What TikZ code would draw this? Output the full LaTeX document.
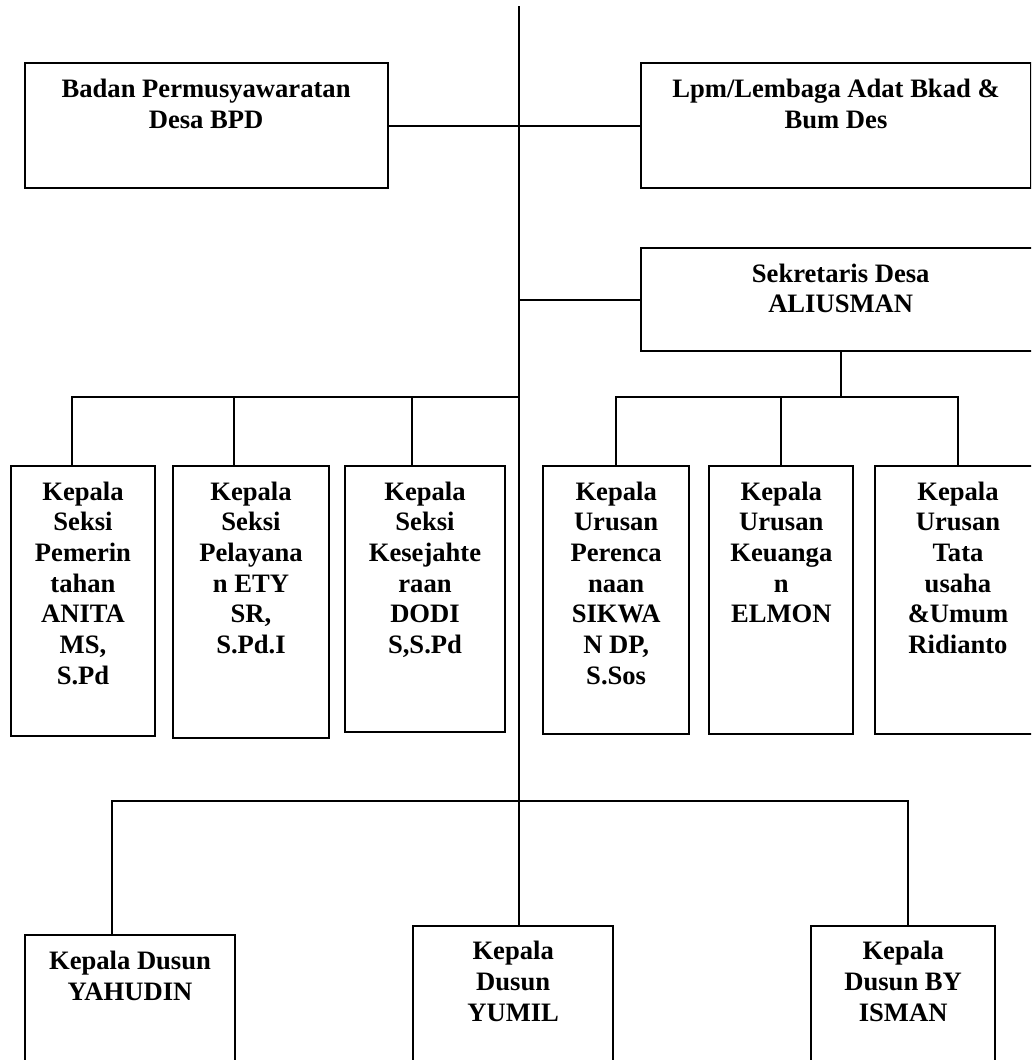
\documentclass[tikz,border=0pt]{standalone}
\usepackage{fontspec}
\setmainfont{Liberation Serif}
\usetikzlibrary{calc}

\newcommand{\lines}[1]{\begin{tabular}[t]{@{}c@{}}#1\end{tabular}}

\begin{document}
\begin{tikzpicture}[x=1pt, y=-1pt, line width=2pt,
        unit/.style={draw, rectangle, inner sep=0pt, anchor=north west},
        txt/.style={anchor=base, inner sep=0pt, font=\fontsize{26.6}{30.7}\selectfont\bfseries}]
        \useasboundingbox (0,0) rectangle (1031,1060);
        \clip (0,0) rectangle (1031,1060);

        \node[unit, minimum width=363.2pt, minimum height=124.4pt] (bpd) at (23.5,62.3) {};
        \node[unit, minimum width=390.6pt, minimum height=124.4pt] (lpm) at (639.7,62.3) {};
        \node[unit, minimum width=400pt, minimum height=103.3pt] (sekdes) at (639.7,247) {};

        \node[unit, minimum width=144.6pt, minimum height=270pt] (pem) at (9.7,465) {};
        \node[unit, minimum width=156.6pt, minimum height=271.7pt] (pel) at (171.7,465) {};
        \node[unit, minimum width=160pt, minimum height=265.7pt] (kes) at (344,465) {};
        \node[unit, minimum width=146.3pt, minimum height=267.7pt] (per) at (542,465) {};
        \node[unit, minimum width=144pt, minimum height=267.7pt] (keu) at (708.3,465) {};
        \node[unit, minimum width=166pt, minimum height=267.7pt] (tu) at (874,465) {};

        \node[unit, minimum width=210.6pt, minimum height=150pt] (yahudin) at (23.7,934.3) {};
        \node[unit, minimum width=199.7pt, minimum height=160pt] (yumil) at (412.3,924.7) {};
        \node[unit, minimum width=184.3pt, minimum height=160pt] (isman) at (810,924.7) {};

        \node[txt] (bpd-t) at ([yshift=-35pt]bpd.north) {\lines{Badan Permusyawaratan\\Desa BPD}};
        \node[txt] (lpm-t) at ([yshift=-35pt]lpm.north) {\lines{Lpm/Lembaga Adat Bkad \&\\Bum Des}};
        \node[txt] (sekdes-t) at ([yshift=-35pt]sekdes.north) {\lines{Sekretaris Desa\\ALIUSMAN}};
        \node[txt] (pem-t) at ([yshift=-35pt]pem.north) {\lines{Kepala\\Seksi\\Pemerin\\tahan\\ANITA\\MS,\\S.Pd}};
        \node[txt] (pel-t) at ([yshift=-35pt]pel.north) {\lines{Kepala\\Seksi\\Pelayana\\n ETY\\SR,\\S.Pd.I}};
        \node[txt] (kes-t) at ([yshift=-35pt]kes.north) {\lines{Kepala\\Seksi\\Kesejahte\\raan\\DODI\\S,S.Pd}};
        \node[txt] (per-t) at ([yshift=-35pt]per.north) {\lines{Kepala\\Urusan\\Perenca\\naan\\SIKWA\\N DP,\\S.Sos}};
        \node[txt] (keu-t) at ([yshift=-35pt]keu.north) {\lines{Kepala\\Urusan\\Keuanga\\n\\ELMON}};
        \node[txt] (tu-t) at ([yshift=-35pt]tu.north) {\lines{Kepala\\Urusan\\Tata\\usaha\\\&Umum\\Ridianto}};
        \node[txt] (yahudin-t) at ([yshift=-35pt]yahudin.north) {\lines{Kepala Dusun\\YAHUDIN}};
        \node[txt] (yumil-t) at ([yshift=-35pt]yumil.north) {\lines{Kepala\\Dusun\\YUMIL}};
        \node[txt] (isman-t) at ([yshift=-35pt]isman.north) {\lines{Kepala\\Dusun BY\\ISMAN}};

        \coordinate (atas) at (519,6);
        \coordinate (busL) at (71.7,396.7);
        \coordinate (busR) at (838.3,396.7);
        \coordinate (busD) at (519,801);

        \draw (atas) -- (atas |- yumil.north);
        \draw (bpd.east) -- (lpm.west);
        \draw (atas |- sekdes.west) -- (sekdes.west);

        \draw (atas |- busL) -- (busL) -- (busL |- pem.north);
        \draw (busL) -| ([xshift=62.6pt]pel.north west);
        \draw (busL) -| ([xshift=68.3pt]kes.north west);

        \draw (sekdes.south) -- (sekdes.south |- busR);
        \draw (sekdes.south |- busR) -| (per.north);
        \draw (sekdes.south |- busR) -| (keu.north);
        \draw (sekdes.south |- busR) -| (tu.north);

        \draw (busD) -| ([xshift=88pt]yahudin.north west);
        \draw (busD) -| ([xshift=98.3pt]isman.north west);

    \end{tikzpicture}
\end{document}
